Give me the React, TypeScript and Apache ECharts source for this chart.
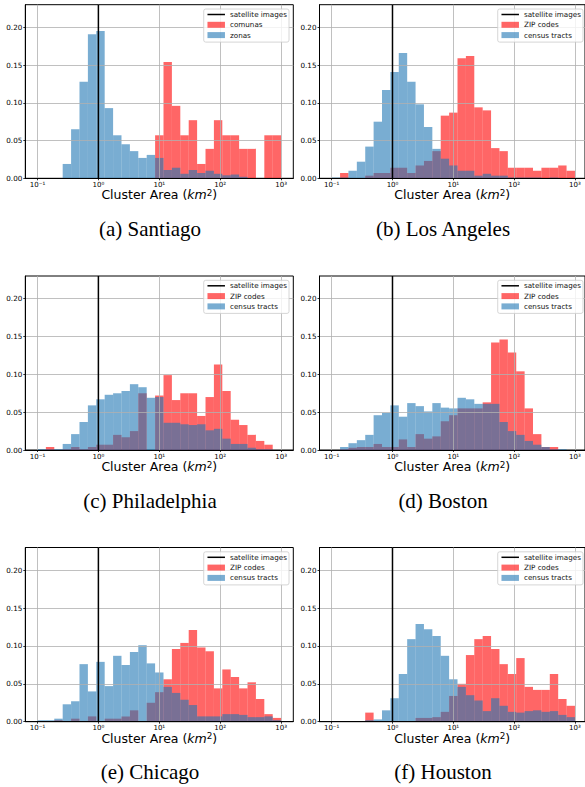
import React, { useEffect, useRef } from "react";
import * as echarts from "echarts";

// log10 bin edges: 29 logarithmic bins from 10^-1 to 10^3
const BIN_EDGES = Array.from({ length: 30 }, (_, i) => -1 + (4 * i) / 29);

const X_TICKS = [-1, 0, 1, 2, 3];
const X_TICK_LABELS = ["10⁻¹", "10⁰", "10¹", "10²", "10³"];
const Y_TICKS = [0, 0.05, 0.1, 0.15, 0.2];
const Y_MAX = 0.23;
const SATELLITE_X = 0; // 10^0 km²

// (a) Santiago
const santiagoComunas = [0, 0, 0, 0, 0, 0, 0, 0, 0, 0, 0, 0, 0, 0, 0.057, 0.154, 0.096, 0.057, 0.077, 0.019, 0.039, 0.077, 0.057, 0.057, 0.039, 0.039, 0, 0.057, 0.057];
const santiagoZonas = [0, 0, 0, 0.019, 0.065, 0.128, 0.191, 0.195, 0.093, 0.057, 0.045, 0.036, 0.027, 0.031, 0.027, 0.011, 0.014, 0.006, 0.011, 0.007, 0.01, 0.006, 0.004, 0.005, 0.002, 0, 0, 0, 0];
// (b) Los Angeles
const laZip = [0, 0.007, 0, 0, 0.0035, 0.007, 0.007, 0.014, 0.014, 0.007, 0.017, 0.023, 0.036, 0.083, 0.087, 0.159, 0.162, 0.094, 0.09, 0.04, 0.036, 0.014, 0.014, 0.014, 0.01, 0.014, 0.014, 0.017, 0.01];
const laTracts = [0.001, 0.001, 0.01, 0.022, 0.042, 0.075, 0.117, 0.141, 0.166, 0.128, 0.098, 0.068, 0.039, 0.026, 0.017, 0.01, 0.01, 0.0035, 0.006, 0.0035, 0.0035, 0.001, 0.001, 0.001, 0.001, 0, 0.001, 0, 0];
// (c) Philadelphia
const phillyZip = [0, 0.004, 0, 0.001, 0.004, 0.001, 0.004, 0.007, 0.007, 0.02, 0.017, 0.025, 0.075, 0, 0.072, 0.099, 0.066, 0.075, 0.075, 0.045, 0.07, 0.113, 0.078, 0.04, 0.033, 0.02, 0.012, 0.007, 0];
const phillyTracts = [0.001, 0.001, 0.001, 0.008, 0.021, 0.037, 0.059, 0.067, 0.073, 0.075, 0.078, 0.087, 0.083, 0.069, 0.07, 0.036, 0.036, 0.034, 0.033, 0.034, 0.026, 0.028, 0.015, 0.008, 0.008, 0.003, 0.001, 0.001, 0];
// (d) Boston
const bostonZip = [0, 0.001, 0.003, 0.004, 0.004, 0.008, 0.004, 0.004, 0.014, 0.004, 0.021, 0.015, 0.018, 0.038, 0.046, 0.055, 0.055, 0.055, 0.063, 0.142, 0.146, 0.129, 0.104, 0.055, 0.021, 0.004, 0.004, 0, 0];
const bostonTracts = [0, 0.004, 0.009, 0.013, 0.02, 0.046, 0.049, 0.059, 0.044, 0.062, 0.058, 0.051, 0.062, 0.056, 0.055, 0.069, 0.067, 0.061, 0.061, 0.061, 0.037, 0.025, 0.02, 0.012, 0.007, 0.004, 0.001, 0.001, 0];
// (e) Chicago
const chicagoZip = [0, 0, 0.002, 0.001, 0.004, 0.001, 0.007, 0.001, 0.004, 0.004, 0.007, 0.015, 0, 0.025, 0.039, 0.056, 0.096, 0.104, 0.121, 0.098, 0.093, 0.044, 0.069, 0.059, 0.044, 0.052, 0.03, 0.01, 0.005];
const chicagoTracts = [0.002, 0.002, 0.004, 0.023, 0.027, 0.076, 0.04, 0.079, 0.047, 0.087, 0.075, 0.092, 0.101, 0.077, 0.065, 0.046, 0.038, 0.029, 0.022, 0.007, 0.007, 0.007, 0.01, 0.01, 0.009, 0.006, 0.006, 0.007, 0.002];
// (f) Houston
const houstonZip = [0, 0, 0, 0, 0.012, 0, 0, 0, 0, 0, 0.005, 0.005, 0.006, 0.013, 0.034, 0.05, 0.088, 0.109, 0.113, 0.096, 0.076, 0.063, 0.084, 0.046, 0.042, 0.042, 0.063, 0.03, 0.021];
const houstonTracts = [0, 0, 0, 0, 0.002, 0.003, 0.015, 0.031, 0.063, 0.109, 0.129, 0.122, 0.113, 0.087, 0.056, 0.046, 0.035, 0.028, 0.014, 0.031, 0.021, 0.013, 0.012, 0.014, 0.015, 0.013, 0.014, 0.009, 0.006];

const CAPTIONS = ["(a) Santiago", "(b) Los Angeles", "(c) Philadelphia", "(d) Boston", "(e) Chicago", "(f) Houston"];
const RED_NAMES = ["comunas", "ZIP codes", "ZIP codes", "ZIP codes", "ZIP codes", "ZIP codes"];
const BLUE_NAMES = ["zonas", "census tracts", "census tracts", "census tracts", "census tracts", "census tracts"];
const RED_DATA = [santiagoComunas, laZip, phillyZip, bostonZip, chicagoZip, houstonZip];
const BLUE_DATA = [santiagoZonas, laTracts, phillyTracts, bostonTracts, chicagoTracts, houstonTracts];
const SAT_NAME = "satellite images";

const RED = "rgba(255,0,0,0.6)";
const BLUE = "rgba(31,119,180,0.6)";
const GRID_COLOR = "#b0b0b0";
const SANS = "DejaVu Sans";

const COLS = [
  { left: 25.3, width: 268, max: 3.2, capX: 150, legendRight: 296 },
  { left: 319.5, width: 265.5, max: 3.165, capX: 443, legendRight: 2 },
];
const ROWS = [
  { top: 4.7, bottom: 178.3, capY: 229 },
  { top: 276, bottom: 450, capY: 500.5 },
  { top: 547.5, bottom: 721.7, capY: 772 },
];

function histSeries(name: string, values: number[], color: string, idx: number) {
  return {
    type: "custom",
    name,
    xAxisIndex: idx,
    yAxisIndex: idx,
    z: 2,
    silent: true,
    itemStyle: { color },
    encode: { x: [0, 1], y: 2 },
    data: values.map((v, k) => [BIN_EDGES[k], BIN_EDGES[k + 1], v]),
    renderItem: (_params: any, api: any) => {
      const v = api.value(2);
      if (!(v > 0)) return null;
      const p0 = api.coord([api.value(0), v]);
      const p1 = api.coord([api.value(1), 0]);
      return {
        type: "rect",
        shape: { x: p0[0], y: p0[1], width: p1[0] - p0[0], height: p1[1] - p0[1] },
        style: { fill: color },
      };
    },
  };
}

function buildOption() {
  const grid: any[] = [];
  const xAxis: any[] = [];
  const yAxis: any[] = [];
  const series: any[] = [];
  const legend: any[] = [];
  const graphic: any[] = [];

  for (let i = 0; i < 6; i++) {
    const col = COLS[i % 2];
    const row = ROWS[Math.floor(i / 2)];
    grid.push({
      left: col.left,
      top: row.top,
      width: col.width,
      height: row.bottom - row.top,
      show: true,
      borderColor: "#000",
      borderWidth: 1,
      backgroundColor: "transparent",
      containLabel: false,
      outerBoundsMode: "none",
    });
    xAxis.push({
      type: "value",
      gridIndex: i,
      min: -1.2,
      max: col.max,
      z: 3,
      axisLine: { show: true, onZero: false, lineStyle: { color: "#000", width: 1 } },
      axisTick: { show: true, length: 2, customValues: X_TICKS, lineStyle: { color: "#000", width: 0.8 } },
      axisLabel: {
        customValues: X_TICKS,
        formatter: (v: number) => X_TICK_LABELS[X_TICKS.indexOf(Math.round(v))] ?? "",
        fontSize: 7,
        fontFamily: SANS,
        color: "#000",
        margin: 3,
      },
      splitLine: { show: true, lineStyle: { color: GRID_COLOR, width: 0.8 } },
      name: "Cluster Area ({i|km}{s|2})",
      nameLocation: "middle",
      nameGap: 10,
      nameMoveOverlap: false,
      nameTextStyle: {
        fontSize: 12.5,
        fontFamily: SANS,
        color: "#000",
        rich: {
          i: { fontSize: 12.5, fontFamily: SANS, fontStyle: "italic", color: "#000" },
          s: { fontSize: 8.8, fontFamily: SANS, color: "#000", verticalAlign: "top" },
        },
      },
    });
    yAxis.push({
      type: "value",
      gridIndex: i,
      min: 0,
      max: Y_MAX,
      z: 3,
      axisLine: { show: true, onZero: false, lineStyle: { color: "#000", width: 1 } },
      axisTick: { show: true, length: 2, customValues: Y_TICKS, lineStyle: { color: "#000", width: 0.8 } },
      axisLabel: {
        customValues: Y_TICKS,
        formatter: (v: number) => v.toFixed(2),
        fontSize: 7.2,
        fontFamily: SANS,
        color: "#000",
        margin: 3,
      },
      splitLine: { show: true, lineStyle: { color: GRID_COLOR, width: 0.8 } },
    });
    series.push(histSeries(RED_NAMES[i], RED_DATA[i], RED, i));
    series.push(histSeries(BLUE_NAMES[i], BLUE_DATA[i], BLUE, i));
    series.push({
      type: "line",
      name: SAT_NAME,
      xAxisIndex: i,
      yAxisIndex: i,
      z: 5,
      silent: true,
      symbol: "none",
      itemStyle: { color: "#000" },
      lineStyle: { color: "#000", width: 1.5 },
      data: [
        [SATELLITE_X, 0],
        [SATELLITE_X, Y_MAX],
      ],
    });
    legend.push({
      orient: "vertical",
      right: col.legendRight,
      top: row.top + 4.3,
      itemWidth: 17.5,
      itemHeight: 6,
      itemGap: 2.3,
      padding: [1.5, 2, 3, 3],
      selectedMode: false,
      backgroundColor: "rgba(255,255,255,0.8)",
      borderColor: "#cccccc",
      borderWidth: 0.8,
      borderRadius: 2,
      z: 6,
      textStyle: { fontSize: 7.2, fontFamily: SANS, color: "#111", lineHeight: 8 },
      data: [
        { name: SAT_NAME, itemStyle: { opacity: 0 }, lineStyle: { color: "#000", width: 1.5, opacity: 1 } },
        { name: RED_NAMES[i], icon: "rect" },
        { name: BLUE_NAMES[i], icon: "rect" },
      ],
    });
    graphic.push({
      type: "text",
      x: col.capX,
      y: row.capY,
      style: {
        text: CAPTIONS[i],
        fontSize: 21,
        fontFamily: "Liberation Serif",
        fill: "#000",
        align: "center",
        verticalAlign: "middle",
      },
    });
  }

  return {
    animation: false,
    backgroundColor: "#fff",
    grid,
    xAxis,
    yAxis,
    series,
    legend,
    graphic,
  };
}

export default function App() {
  const ref = useRef<HTMLDivElement>(null);
  useEffect(() => {
    document.body.style.margin = "0";
    if (!ref.current) return;
    const chart = echarts.init(ref.current, undefined, { renderer: "svg" });
    chart.setOption(buildOption() as any);
    return () => chart.dispose();
  }, []);
  return <div ref={ref} style={{ width: 585, height: 787 }} />;
}
